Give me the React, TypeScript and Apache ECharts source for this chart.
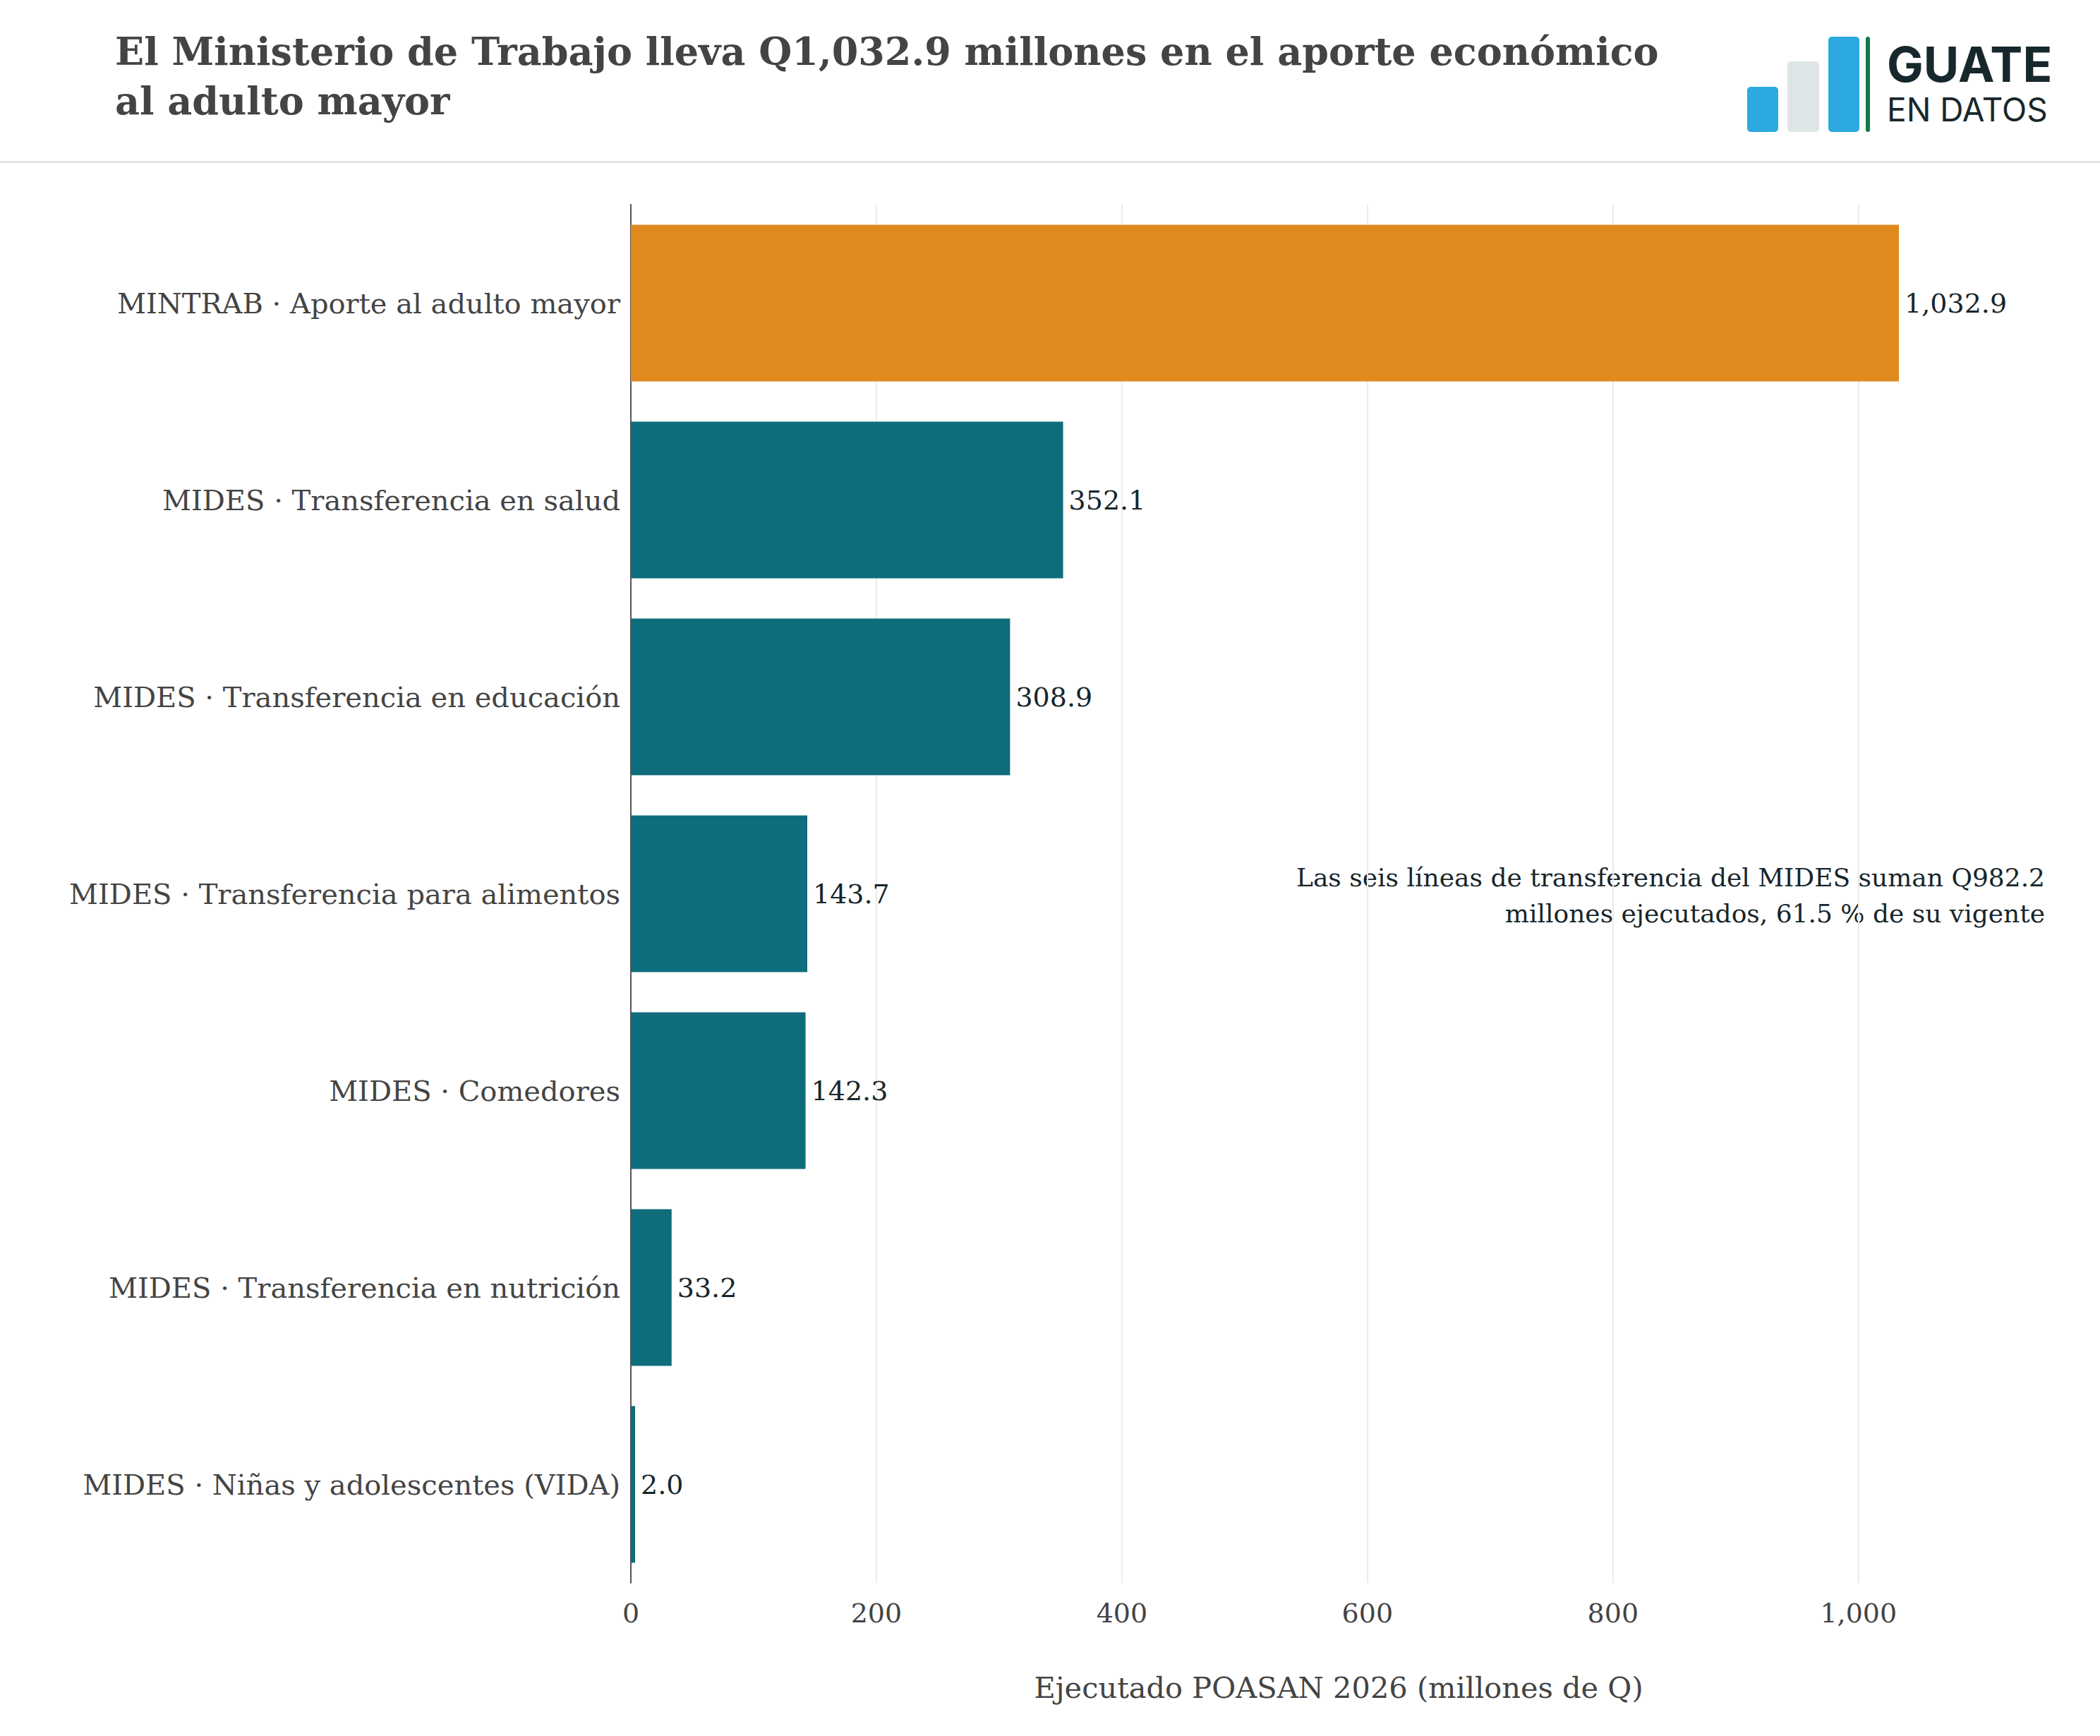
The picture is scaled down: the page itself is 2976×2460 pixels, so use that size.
import React, { useEffect, useRef } from "react";
import * as echarts from "echarts";

const categories = [
  "MINTRAB · Aporte al adulto mayor",
  "MIDES · Transferencia en salud",
  "MIDES · Transferencia en educación",
  "MIDES · Transferencia para alimentos",
  "MIDES · Comedores",
  "MIDES · Transferencia en nutrición",
  "MIDES · Niñas y adolescentes (VIDA)",
];
const values = [1032.9, 352.1, 308.9, 143.7, 142.3, 33.2, 2.0];
const highlightIndex = 0;
const xTicks = [0, 200, 400, 600, 800, 1000];

const titleLines = [
  "El Ministerio de Trabajo lleva Q1,032.9 millones en el aporte económico",
  "al adulto mayor",
];
const annotationLines = [
  "Las seis líneas de transferencia del MIDES suman Q982.2",
  "millones ejecutados, 61.5 % de su vigente",
];
const axisName = "Ejecutado POASAN 2026 (millones de Q)";

const SERIF = "'DejaVu Serif', serif";
const SANS = "Inter, 'Noto Sans', sans-serif";
const ORANGE = "#E08A1E";
const TEAL = "#0E6C7B";
const GRAY_TEXT = "#444444";
const DARK_TEXT = "#17262B";

const fmt = (v: number, d: number) =>
  v.toLocaleString("en-US", { minimumFractionDigits: d, maximumFractionDigits: d });

export default function App() {
  const ref = useRef<HTMLDivElement>(null);
  useEffect(() => {
    document.body.style.margin = "0";
    const chart = echarts.init(ref.current!, null, { renderer: "svg" });
    const option: any = {
      animation: false,
      backgroundColor: "#ffffff",
      grid: { left: 894, top: 290, right: 76, bottom: 217, containLabel: false },
      xAxis: {
        type: "value",
        min: 0,
        max: 1153,
        interval: 200,
        axisLine: { show: false },
        axisTick: { show: false },
        splitLine: { show: true, showMaxLine: false, lineStyle: { color: "#EBEBEB", width: 2 } },
        axisLabel: {
          showMaxLabel: false,
          fontFamily: SERIF,
          fontSize: 38,
          color: GRAY_TEXT,
          margin: 24,
          formatter: (v: number) => (xTicks.includes(v) ? fmt(v, 0) : ""),
        },
        name: axisName,
        nameLocation: "middle",
        nameGap: 127,
        nameTextStyle: { fontFamily: SERIF, fontSize: 41.5, color: GRAY_TEXT },
      },
      yAxis: {
        type: "category",
        inverse: true,
        data: categories,
        axisLine: { show: true, lineStyle: { color: "#555555", width: 2 } },
        axisTick: { show: false },
        splitLine: { show: false },
        axisLabel: { fontFamily: SERIF, fontSize: 40, color: GRAY_TEXT, margin: 15 },
      },
      series: [
        {
          type: "bar",
          barCategoryGap: "20.5%",
          barMinHeight: 6,
          data: values.map((v, i) => ({
            value: v,
            itemStyle: { color: i === highlightIndex ? ORANGE : TEAL },
          })),
          label: {
            show: true,
            position: "right",
            distance: 8,
            fontFamily: SERIF,
            fontSize: 38,
            color: DARK_TEXT,
            formatter: (p: any) => fmt(p.value, 1),
          },
        },
      ],
      graphic: [
        {
          type: "text",
          left: 163,
          top: 38,
          style: {
            text: titleLines.join("\n"),
            font: `bold 54px ${SERIF}`,
            fill: GRAY_TEXT,
            lineHeight: 70,
          },
        },
        {
          type: "rect",
          shape: { x: 0, y: 228, width: 2976, height: 3 },
          style: { fill: "#DDE2E2" },
        },
        // logo
        { type: "rect", shape: { x: 2476, y: 123, width: 44, height: 64, r: 5 }, style: { fill: "#2BA9E0" } },
        { type: "rect", shape: { x: 2533, y: 87, width: 45, height: 100, r: 5 }, style: { fill: "#DEE5E7" } },
        { type: "rect", shape: { x: 2591, y: 52, width: 44, height: 135, r: 5 }, style: { fill: "#2BA9E0" } },
        { type: "rect", shape: { x: 2644, y: 52, width: 6, height: 135, r: 3 }, style: { fill: "#117A4A" } },
        {
          type: "text",
          x: 2674,
          y: 125,
          style: { text: "GUATE", font: `bold 69px ${SANS}`, fill: "#17282C", verticalAlign: "bottom" },
        },
        {
          type: "text",
          x: 2674,
          y: 178,
          style: { text: "EN DATOS", font: `46px ${SANS}`, fill: "#17282C", verticalAlign: "bottom" },
        },
        {
          type: "text",
          x: 2898,
          y: 1218,
          style: {
            text: annotationLines.join("\n"),
            font: `36px ${SERIF}`,
            fill: DARK_TEXT,
            align: "right",
            lineHeight: 51,
          },
        },
      ],
    };
    chart.setOption(option);
    return () => chart.dispose();
  }, []);
  return (
    <div
      ref={ref}
      style={{ position: "absolute", left: 0, top: 0, width: 2976, height: 2460, background: "#fff" }}
    />
  );
}
